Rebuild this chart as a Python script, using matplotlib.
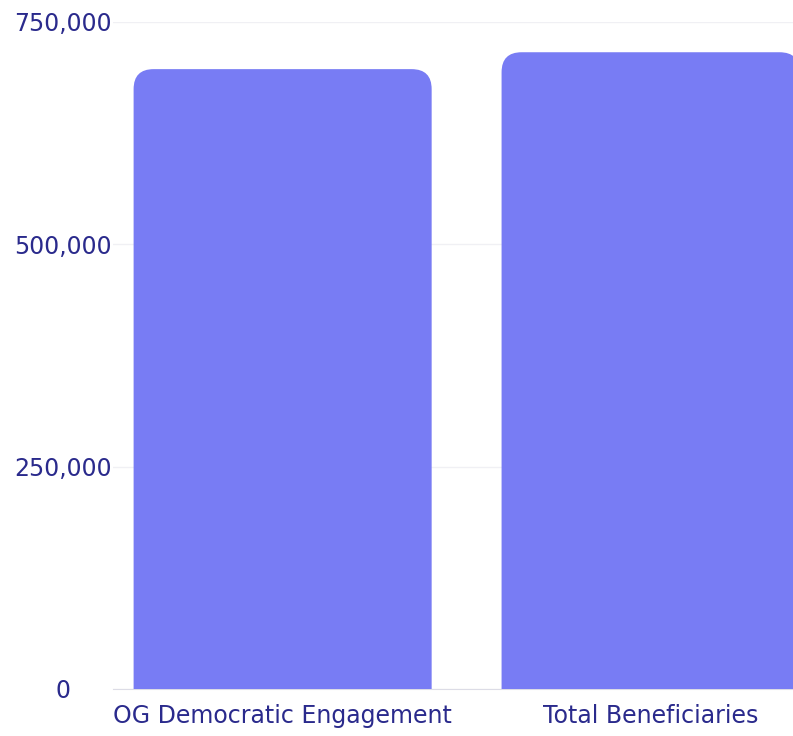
import numpy as np
import matplotlib.pyplot as plt
from matplotlib.patches import FancyBboxPatch

# data
categories = ["OG Democratic Engagement", "Total Beneficiaries"]
values = [697000, 716000]
yticks = [0, 250000, 500000, 750000]
yticklabels = ["0", "250,000", "500,000", "750,000"]

BAR_COLOR = "#787cf4"
TEXT_COLOR = "#2a2a8c"
GRID_COLOR = "#f0f0f4"
BASE_COLOR = "#dcdce6"
RADIUS_PX = 20

plt.rcParams['font.family'] = ['DejaVu Sans']

fig = plt.figure(figsize=(7.93, 7.36), dpi=100)
ax = fig.add_axes([113 / 793, 1 - 689 / 736, 1 - 113 / 793, (689 - 22) / 736])

x = np.arange(len(categories))
bars = ax.bar(x, values, width=0.81, color=BAR_COLOR)
ax.set_xlim(-0.461, 1.387)
ax.set_ylim(0, 750000)

# rounded tops: swap plain bars for rounded boxes, bottom pushed below 0
fig.canvas.draw()
inv = ax.transData.inverted()
p0 = inv.transform((0, 0))
p1 = inv.transform((RADIUS_PX, RADIUS_PX))
rx, ry = p1[0] - p0[0], p1[1] - p0[1]
for b in bars:
    b.set_visible(False)
    bx, bw, bh = b.get_x(), b.get_width(), b.get_height()
    patch = FancyBboxPatch((bx, -3 * ry), bw, bh + 3 * ry,
                           boxstyle=f"round,pad=0,rounding_size={rx}",
                           mutation_aspect=ry / rx,
                           facecolor=BAR_COLOR, edgecolor="none", zorder=2)
    ax.add_patch(patch)
ax.set_xlim(-0.461, 1.387)
ax.set_ylim(0, 750000)

ax.set_yticks(yticks)
ax.set_yticklabels(yticklabels)
ax.set_xticks(x)
ax.set_xticklabels(categories)
ax.grid(axis="y", color=GRID_COLOR, linewidth=1)
ax.set_axisbelow(True)
for s in ["top", "right", "left"]:
    ax.spines[s].set_visible(False)
ax.spines["bottom"].set_color(BASE_COLOR)
ax.spines["bottom"].set_zorder(1)

ax.tick_params(axis="y", length=0, pad=36, labelsize=17, labelcolor=TEXT_COLOR)
ax.tick_params(axis="x", length=0, pad=11, labelsize=17, labelcolor=TEXT_COLOR)
for lab in ax.get_yticklabels():
    lab.set_ha("center")

fig.savefig("out.png", dpi=100)
